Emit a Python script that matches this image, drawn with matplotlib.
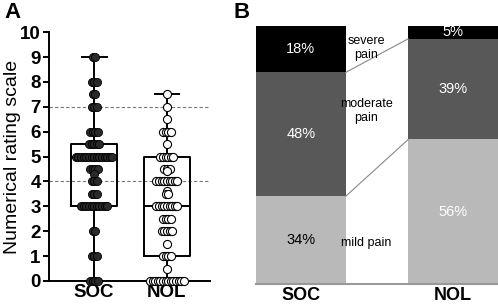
import numpy as np
import matplotlib.pyplot as plt

plt.rcParams['font.family'] = ['Liberation Sans', 'DejaVu Sans']

# Panel A: pain scores (value, count) per group
soc_vals = [9, 8, 7.5, 7, 6, 5.5, 5, 4.5, 4.3, 4, 3.5, 3, 2, 1, 0]
soc_counts = [2, 3, 2, 3, 4, 5, 15, 4, 1, 3, 3, 11, 2, 3, 4]
nol_vals = [7.5, 7, 6.5, 6, 5.5, 5, 4.5, 4.4, 4, 3.6, 3.5, 3, 2.5, 2, 1.5, 1, 0.5, 0]
nol_counts = [1, 1, 1, 4, 1, 6, 3, 1, 9, 1, 2, 9, 4, 5, 1, 4, 1, 14]

# box stats: whislo, q1, med, q3, whishi
soc_box = [0, 3, 5, 5.5, 9]
nol_box = [0, 1, 3, 5, 7.5]
groups = ['SOC', 'NOL']

# Panel B: pain category shares (%)
mild = [34, 56]
moderate = [48, 39]
severe = [18, 5]

fig = plt.figure(figsize=(4.98, 3.05), dpi=100)

# ---------- Panel A ----------
ax = fig.add_axes([0.0984, 0.0787, 0.323, 0.816])
ax.axhline(4, color='#777777', ls='--', lw=0.8, dashes=(3, 2), zorder=0)
ax.axhline(7, color='#777777', ls='--', lw=0.8, dashes=(3, 2), zorder=0)

bxp_stats = []
for name, b in zip(groups, [soc_box, nol_box]):
    bxp_stats.append(dict(label=name, whislo=b[0], q1=b[1], med=b[2], q3=b[3], whishi=b[4], fliers=[]))
ax.bxp(bxp_stats, positions=[0, 1], widths=0.64, showfliers=False,
       boxprops=dict(color='black', lw=1.4),
       whiskerprops=dict(color='black', lw=1.4),
       capprops=dict(color='black', lw=1.4),
       medianprops=dict(color='black', lw=1.4),
       capwidths=0.34, zorder=2)

step = 0.036
def swarm(pos, vals, counts):
    xs, ys = [], []
    for v, n in zip(vals, counts):
        off = (np.arange(n) - (n - 1) / 2) * step
        xs.extend(pos + off)
        ys.extend([v] * n)
    return np.array(xs), np.array(ys)

x, y = swarm(0, soc_vals, soc_counts)
ax.scatter(x, y, s=34, facecolor='#2a2a2a', edgecolor='black', lw=0.6, zorder=3, clip_on=False)
x, y = swarm(1, nol_vals, nol_counts)
ax.scatter(x, y, s=34, facecolor='white', edgecolor='black', lw=0.8, zorder=3, clip_on=False)

ax.set_xlim(-0.62, 1.59)
ax.set_ylim(0, 10)
ax.set_yticks(range(0, 11))
ax.set_xticks([0, 1])
ax.set_xticklabels(groups, fontsize=13.5, fontweight='bold')
for lbl in ax.get_yticklabels():
    lbl.set_fontweight('bold')
    lbl.set_fontsize(13.5)
ax.tick_params(axis='y', length=4, width=1.4, pad=2)
ax.tick_params(axis='x', length=0, pad=2)
for s in ['top', 'right']:
    ax.spines[s].set_visible(False)
for s in ['left', 'bottom']:
    ax.spines[s].set_linewidth(1.4)
ax.set_ylabel('Numerical rating scale', fontsize=14)
ax.yaxis.set_label_coords(-0.172, 0.5)
fig.text(0.008, 0.96, 'A', fontsize=16, fontweight='bold', va='center')

# ---------- Panel B ----------
bx = fig.add_axes([0.514, 0.069, 0.486, 0.846])
pos = np.array([0, 1])
w = 0.59
bx.bar(pos, mild, w, color='#b9b9b9')
bx.bar(pos, moderate, w, bottom=mild, color='#585858')
bx.bar(pos, severe, w, bottom=np.array(mild) + np.array(moderate), color='black')

# connecting lines
m_top = np.array(mild)
mod_top = np.array(mild) + np.array(moderate)
bx.plot([w / 2, 1 - w / 2], [m_top[0], m_top[1]], color='#888888', lw=0.8)
bx.plot([w / 2, 1 - w / 2], [mod_top[0], mod_top[1]], color='#888888', lw=0.8)

pct_colors = [['black', 'white'], ['white', 'white'], ['white', 'white']]
for i in range(2):
    bx.text(pos[i], mild[i] / 2, f'{mild[i]}%', ha='center', va='center', fontsize=10.5, color=pct_colors[0][i])
    bx.text(pos[i], mild[i] + moderate[i] / 2, f'{moderate[i]}%', ha='center', va='center', fontsize=10.5, color=pct_colors[1][i])
    bx.text(pos[i], mod_top[i] + severe[i] / 2, f'{severe[i]}%', ha='center', va='center', fontsize=10.5, color=pct_colors[2][i])

bx.text(0.43, 91.5, 'severe\npain', ha='center', va='center', fontsize=9, linespacing=1.3)
bx.text(0.43, 67, 'moderate\npain', ha='center', va='center', fontsize=9, linespacing=1.3)
bx.text(0.43, 16, 'mild pain', ha='center', va='center', fontsize=9)

bx.set_xlim(-w / 2, 1 + w / 2)
bx.set_ylim(0, 100)
bx.set_yticks([])
bx.set_xticks(pos)
bx.set_xticklabels(groups, fontsize=13, fontweight='bold')
bx.tick_params(axis='x', length=0, pad=2)
for s in ['top', 'right', 'left']:
    bx.spines[s].set_visible(False)
bx.spines['bottom'].set_color('#999999')
bx.spines['bottom'].set_linewidth(1.5)
fig.text(0.468, 0.96, 'B', fontsize=16, fontweight='bold', va='center')

fig.savefig('out.png', dpi=100)
